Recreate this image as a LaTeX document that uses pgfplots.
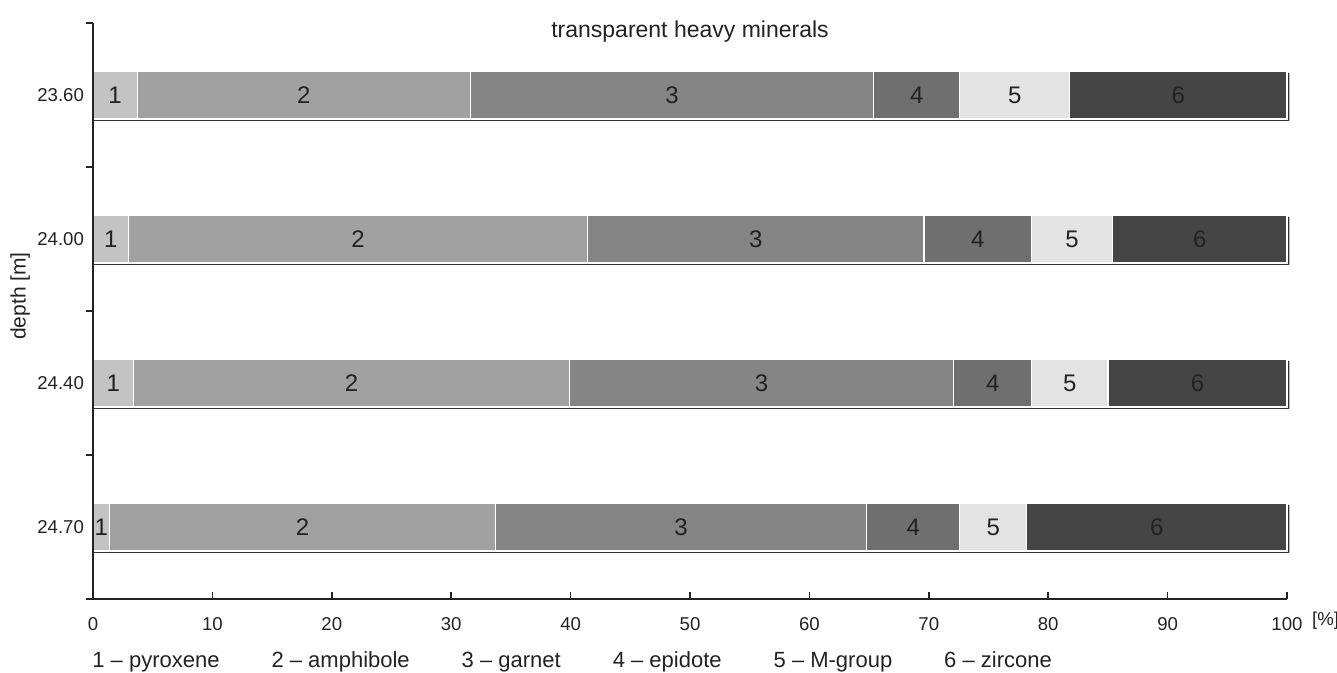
\documentclass[border=0pt]{standalone}
\usepackage{fontspec}
\setmainfont{Liberation Sans}
\usepackage{pgfplots}
\pgfplotsset{compat=1.18}
\definecolor{cA}{HTML}{C3C3C3}
\definecolor{cB}{HTML}{A1A1A1}
\definecolor{cC}{HTML}{858585}
\definecolor{cD}{HTML}{6F6F6F}
\definecolor{cE}{HTML}{E3E3E3}
\definecolor{cF}{HTML}{454545}
\definecolor{ink}{HTML}{222222}
\definecolor{shadow}{HTML}{333333}
\pgfplotsset{
  base/.style={
    width=597pt, height=288pt, scale only axis,
    xmin=0, xmax=100, ymin=0, ymax=4,
    clip=false,
  }
}
\begin{document}
\begin{tikzpicture}
% shadow of the bars
\begin{axis}[base, hide axis, xbar, bar width=24pt, bar shift=-1pt]
  \addplot[fill=shadow, draw=none] coordinates {(100.2,3.5) (100.2,2.5) (100.2,1.5) (100.2,0.5)};
\end{axis}
% main stacked bars
\begin{axis}[base, xbar stacked, bar width=24pt, axis on top,
  axis x line=bottom, axis y line=left,
  axis line style={-, line width=0.9pt, ink},
  /pgf/number format/assume math mode=true,
  tick align=inside,
  major tick length=3.5pt,
  xtick={0,10,...,100},
  every tick/.style={ink, line width=0.8pt},
  ytick={0,1,2,3,4},
  yticklabels={,,,,},
  ytick style={xshift=-3.5pt},
  extra y ticks={0.5,1.5,2.5,3.5},
  extra y tick labels={24.70,24.40,24.00,23.60},
  extra y tick style={tick style={draw=none}},
  tick label style={font=\fontsize{9.3}{10}\selectfont, text=ink},
  xticklabel style={yshift=-5.5pt},
  yticklabel style={xshift=-1pt},
  xlabel={[\%]},
  xlabel style={at={(rel axis cs:1,0)}, anchor=north west, xshift=9pt, yshift=-3pt, font=\fontsize{9.3}{10}\selectfont, text=ink},
  ylabel={depth [m]},
  ylabel style={at={(axis description cs:-0.061,0.526)}, anchor=center, font=\fontsize{10.5}{12}\selectfont, text=ink},
]
  \addplot[fill=cA, draw=white, line width=0.6pt] coordinates {(3.7,3.5) (3.0,2.5) (3.4,1.5) (1.4,0.5)};
  \addplot[fill=cB, draw=white, line width=0.6pt] coordinates {(27.9,3.5) (38.4,2.5) (36.5,1.5) (32.3,0.5)};
  \addplot[fill=cC, draw=white, line width=0.6pt] coordinates {(33.8,3.5) (28.2,2.5) (32.2,1.5) (31.1,0.5)};
  \addplot[fill=cD, draw=white, line width=0.6pt] coordinates {(7.2,3.5) (9.0,2.5) (6.5,1.5) (7.8,0.5)};
  \addplot[fill=cE, draw=white, line width=0.6pt] coordinates {(9.2,3.5) (6.8,2.5) (6.4,1.5) (5.6,0.5)};
  \addplot[fill=cF, draw=white, line width=0.6pt] coordinates {(18.2,3.5) (14.6,2.5) (15.0,1.5) (21.8,0.5)};
  \coordinate (O) at (rel axis cs:0,0);
  \coordinate (E) at (rel axis cs:1,1);
  \node[anchor=base, font=\fontsize{11.5}{13}\selectfont, text=ink, yshift=-7pt] at (rel axis cs:0.5,1) {transparent heavy minerals};
  \node[anchor=west, font=\fontsize{11}{12}\selectfont, text=ink, inner sep=0pt, xshift=-0.5pt, yshift=-31.5pt] at (rel axis cs:0,0)
    {1 – pyroxene\hspace{26pt}2 – amphibole\hspace{26pt}3 – garnet\hspace{26pt}4 – epidote\hspace{26pt}5 – M-group\hspace{26pt}6 – zircone};
\end{axis}
% segment labels
\begin{axis}[base, hide axis]
  \addplot[only marks, mark=none, point meta=explicit symbolic,
    nodes near coords, nodes near coords align=center,
    every node near coord/.append style={anchor=center, font=\fontsize{12}{14}\selectfont, text=ink}]
    coordinates {
      (1.85,3.5)[1] (17.65,3.5)[2] (48.5,3.5)[3] (69.0,3.5)[4] (77.2,3.5)[5] (90.9,3.5)[6]
      (1.5,2.5)[1] (22.2,2.5)[2] (55.5,2.5)[3] (74.1,2.5)[4] (82.0,2.5)[5] (92.7,2.5)[6]
      (1.7,1.5)[1] (21.65,1.5)[2] (56.0,1.5)[3] (75.35,1.5)[4] (81.8,1.5)[5] (92.5,1.5)[6]
      (0.7,0.5)[1] (17.55,0.5)[2] (49.25,0.5)[3] (68.7,0.5)[4] (75.4,0.5)[5] (89.1,0.5)[6]
    };
\end{axis}
\pgfresetboundingbox
\path[use as bounding box] ([shift={(-46.5pt,-37pt)}]O) rectangle ([shift={(25pt,11.5pt)}]E);
\end{tikzpicture}
\end{document}
